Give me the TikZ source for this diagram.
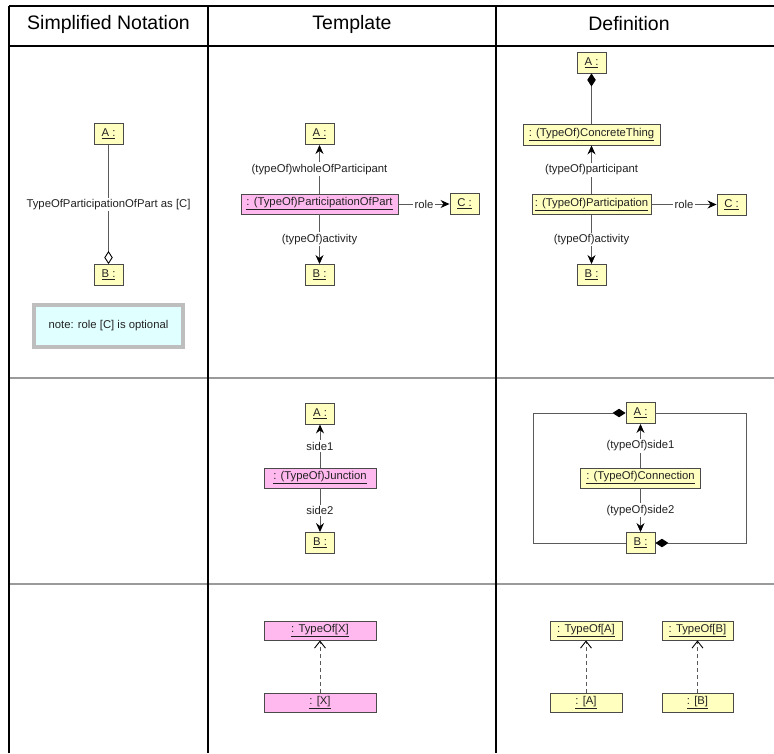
\documentclass[tikz,border=0pt]{standalone}
\usepackage{fontspec}
\setmainfont{Liberation Sans}
\usetikzlibrary{arrows.meta}
\definecolor{objfill}{HTML}{FFFFC0}
\definecolor{tmplfill}{HTML}{FFB9EE}
\definecolor{boxline}{HTML}{4A4A4A}
\definecolor{wire}{HTML}{5A5A5A}
\definecolor{notefill}{HTML}{E0FFFF}
\definecolor{noteline}{HTML}{BEBEBE}
\definecolor{rowline}{HTML}{9A9A9A}
\definecolor{txt}{HTML}{222222}
\newcommand\objfont{\fontsize{11.3}{13.5}\selectfont}
\newcommand\headfont{\fontsize{19.5}{23}\selectfont}
\newcommand\objname[1]{\underline{#1}}
\begin{document}
\begin{tikzpicture}[x=1pt,y=-1pt,
  obj/.style={draw=boxline, fill=objfill, line width=0.9pt, inner sep=0pt,
    minimum height=21pt, minimum width=29pt, font=\objfont, text=txt},
  tmpl/.style={obj, fill=tmplfill},
  lbl/.style={fill=white, inner sep=1.5pt, font=\objfont, text=txt},
  head/.style={font=\headfont, text=black},
  conn/.style={draw=wire, line width=0.9pt},
  arr/.style={conn, -{Stealth[length=9pt,width=8pt,inset=3pt,color=black]}},
  comp/.style={conn, {Diamond[length=13pt,width=8.5pt,color=black]}-},
  agg/.style={conn, -{Diamond[open,length=13pt,width=8.5pt,color=black]}},
  dep/.style={conn, dash pattern=on 4pt off 3pt, -{Straight Barb[length=7pt,width=11pt,color=black]}},
  tabrule/.style={draw=black, line width=1.6pt},
  rowrule/.style={draw=rowline, line width=1.8pt}]
\useasboundingbox (0,0) rectangle (774,753);

% table frame
\draw[tabrule] (9,6) -- (774,6);
\draw[tabrule] (9,46) -- (774,46);
\draw[rowrule] (9,378) -- (774,378);
\draw[rowrule] (9,584) -- (774,584);
\draw[tabrule] (9,6) -- (9,753);
\draw[tabrule] (208,6) -- (208,753);
\draw[tabrule] (496,6) -- (496,753);

% headers
\node[head] (h1) at (108.5,24) {Simplified Notation};
\node[head] (h2) at (352,24) {Template};
\node[head] (h3) at (629,24) {Definition};

% ---- participation: simplified notation
\node[obj] (sA) at (108.5,134) {\objname{A :}};
\node[obj] (sB) at (108.5,275) {\objname{B :}};
\draw[agg] (sA.south) -- node[lbl] {TypeOfParticipationOfPart as [C]} (sB.north);
\node[draw=noteline, line width=4pt, fill=notefill, minimum width=149pt, minimum height=42pt,
  font=\objfont, text=txt] (note) at (108.5,326) {note: role [C] is optional};

% ---- participation: template
\node[obj] (tA) at (319.5,134) {\objname{A :}};
\node[tmpl, minimum width=157pt, minimum height=20pt] (tP) at (319.5,204) {\objname{: (TypeOf)ParticipationOfPart}};
\node[obj] (tC) at (464.5,204) {\objname{C :}};
\node[obj] (tB) at (319.5,275) {\objname{B :}};
\draw[arr] (tP.north) -- node[lbl] {(typeOf)wholeOfParticipant} (tA.south);
\draw[arr] (tP.south) -- node[lbl] {(typeOf)activity} (tB.north);
\draw[arr] (tP.east) -- node[lbl] {role} (tC.west);

% ---- participation: definition
\node[obj] (dA) at (591.5,62.5) {\objname{A :}};
\node[obj, minimum width=137pt] (dT) at (591.5,134.5) {\objname{: (TypeOf)ConcreteThing}};
\node[obj, minimum width=119pt, minimum height=20pt] (dP) at (591.5,204.5) {\objname{: (TypeOf)Participation}};
\node[obj] (dC) at (731.5,204.5) {\objname{C :}};
\node[obj] (dB) at (591.5,275) {\objname{B :}};
\draw[comp] (dA.south) -- (dT.north);
\draw[arr] (dP.north) -- node[lbl] {(typeOf)participant} (dT.south);
\draw[arr] (dP.south) -- node[lbl] {(typeOf)activity} (dB.north);
\draw[arr] (dP.east) -- node[lbl] {role} (dC.west);

% ---- connection: template
\node[obj] (jA) at (320,413.5) {\objname{A :}};
\node[tmpl, minimum width=112pt, minimum height=20pt] (jJ) at (320,478) {\objname{: (TypeOf)Junction}};
\node[obj] (jB) at (320,543) {\objname{B :}};
\draw[arr] (jJ.north) -- node[lbl] {side1} (jA.south);
\draw[arr] (jJ.south) -- node[lbl] {side2} (jB.north);

% ---- connection: definition
\node[obj] (cA) at (640.5,413) {\objname{A :}};
\node[obj, minimum width=120pt, minimum height=20pt] (cC) at (640.5,478) {\objname{: (TypeOf)Connection}};
\node[obj] (cB) at (640.5,543) {\objname{B :}};
\draw[arr] (cC.north) -- node[lbl] {(typeOf)side1} (cA.south);
\draw[arr] (cC.south) -- node[lbl] {(typeOf)side2} (cB.north);
\draw[comp] (cA.west) -- ++(-92,0) |- (cB.west);
\draw[comp] (cB.east) -- ++(91,0) |- (cA.east);

% ---- classification: template
\node[tmpl, minimum width=112pt, minimum height=19pt] (xT) at (320,630.5) {\objname{: TypeOf[X]}};
\node[tmpl, minimum width=112pt, minimum height=19pt] (xI) at (320,702.5) {\objname{: [X]}};
\draw[dep] (xI.north) -- (xT.south);

% ---- classification: definition
\node[obj, minimum width=72pt, minimum height=19pt] (aT) at (586,630.5) {\objname{: TypeOf[A]}};
\node[obj, minimum width=72pt, minimum height=19pt] (aI) at (586,702.5) {\objname{: [A]}};
\node[obj, minimum width=71pt, minimum height=19pt] (bT) at (697.5,630.5) {\objname{: TypeOf[B]}};
\node[obj, minimum width=71pt, minimum height=19pt] (bI) at (697.5,702.5) {\objname{: [B]}};
\draw[dep] (aI.north) -- (aT.south);
\draw[dep] (bI.north) -- (bT.south);
\end{tikzpicture}
\end{document}
